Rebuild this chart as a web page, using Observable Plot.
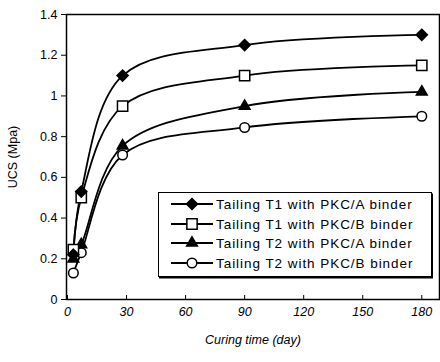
<!DOCTYPE html>
<html>
<head>
<meta charset="utf-8">
<script src="https://cdn.jsdelivr.net/npm/d3@7"></script>
<script src="https://cdn.jsdelivr.net/npm/@observablehq/plot@0.6"></script>
<style>
  body { margin: 0; background: #fff; }
  #wrap { position: relative; width: 440px; height: 362px; font-family: "Liberation Sans", Arial, sans-serif; }
  #legend { position: absolute; left: 158px; top: 192px; width: 274px; height: 85px; border: 1.5px solid #000; background: #fff; box-sizing: border-box; box-shadow: 1px 1.5px 0 #000; }
  .row { position: absolute; left: 12px; height: 16px; display: flex; align-items: center; font-size: 13.5px; letter-spacing: 0.95px; color: #000; white-space: nowrap; }
  .row svg { margin-right: 3px; }
</style>
</head>
<body>
<div id="wrap"></div>
<script>
const days = [3, 7, 28, 90, 180];
const seriesNames = [
  "Tailing T1 with PKC/A binder",
  "Tailing T1 with PKC/B binder",
  "Tailing T2 with PKC/A binder",
  "Tailing T2 with PKC/B binder"
];
const t1a = [0.22, 0.53, 1.10, 1.25, 1.30];
const t1b = [0.245, 0.50, 0.95, 1.10, 1.15];
const t2a = [0.20, 0.27, 0.755, 0.95, 1.02];
const t2b = [0.13, 0.23, 0.71, 0.845, 0.90];
const xTicks = [0, 30, 60, 90, 120, 150, 180];
const yTicks = [0, 0.2, 0.4, 0.6, 0.8, 1, 1.2, 1.4];

const symbols = ["diamond2", "square", "triangle", "circle"];
const fills = ["black", "white", "black", "white"];
const radii = [5, 5.8, 4, 4.8];
const allSeries = [t1a, t1b, t2a, t2b];

const data = [];
allSeries.forEach((vals, i) => {
  vals.forEach((v, j) => data.push({series: seriesNames[i], idx: i, day: days[j], ucs: v}));
});

const marks = [
  Plot.frame({stroke: "black", strokeWidth: 1.5}),
  Plot.axisX({ticks: xTicks, tickSize: -4, tickPadding: 12, fontSize: 12.5, fontStyle: "italic",
    label: "Curing time (day)", labelAnchor: "center", labelArrow: "none", labelOffset: 44}),
  Plot.axisY({ticks: yTicks, tickSize: 5, tickPadding: 4, fontSize: 12.5, tickFormat: d => String(+d.toFixed(1)),
    label: "UCS (Mpa)", labelAnchor: "center", labelArrow: "none", labelOffset: 58})
];
allSeries.forEach((vals, i) => {
  const d = data.filter(r => r.idx === i);
  marks.push(Plot.line(d, {x: "day", y: "ucs", stroke: "black", strokeWidth: 1.8, curve: "catmull-rom"}));
});
for (let i = allSeries.length - 1; i >= 0; i--) {
  const d = data.filter(r => r.idx === i);
  marks.push(Plot.dot(d, {x: "day", y: "ucs", symbol: () => symbols[i], fill: fills[i], stroke: "black", strokeWidth: 1.5, r: radii[i]}));
}

const chart = Plot.plot({
  width: 440,
  height: 362,
  marginLeft: 66,
  marginRight: 1,
  marginTop: 14,
  marginBottom: 63,
  style: {fontFamily: "Liberation Sans, Arial, sans-serif", fontSize: "13px", color: "black", background: "white"},
  x: {domain: [-0.5, 189]},
  y: {domain: [0, 1.4]},
  marks
});
const wrap = document.getElementById("wrap");
wrap.appendChild(chart);

// Legend
const legend = document.createElement("div");
legend.id = "legend";
const rowTops = [3, 23, 42, 62];
const symTypes = [d3.symbolDiamond2, d3.symbolSquare, d3.symbolTriangle, d3.symbolCircle];
seriesNames.forEach((name, i) => {
  const row = document.createElement("div");
  row.className = "row";
  row.style.top = rowTops[i] + "px";
  const ns = "http://www.w3.org/2000/svg";
  const s = document.createElementNS(ns, "svg");
  s.setAttribute("width", 42); s.setAttribute("height", 16);
  const ln = document.createElementNS(ns, "line");
  ln.setAttribute("x1", 0); ln.setAttribute("x2", 42); ln.setAttribute("y1", 8); ln.setAttribute("y2", 8);
  ln.setAttribute("stroke", "black"); ln.setAttribute("stroke-width", 1.8);
  s.appendChild(ln);
  const p = document.createElementNS(ns, "path");
  p.setAttribute("d", d3.symbol(symTypes[i], Math.PI * radii[i] * radii[i])());
  p.setAttribute("transform", "translate(21,8)");
  p.setAttribute("fill", fills[i]); p.setAttribute("stroke", "black"); p.setAttribute("stroke-width", 1.5);
  s.appendChild(p);
  row.appendChild(s);
  const t = document.createElement("span");
  t.textContent = name;
  row.appendChild(t);
  legend.appendChild(row);
});
wrap.appendChild(legend);
</script>
</body>
</html>
